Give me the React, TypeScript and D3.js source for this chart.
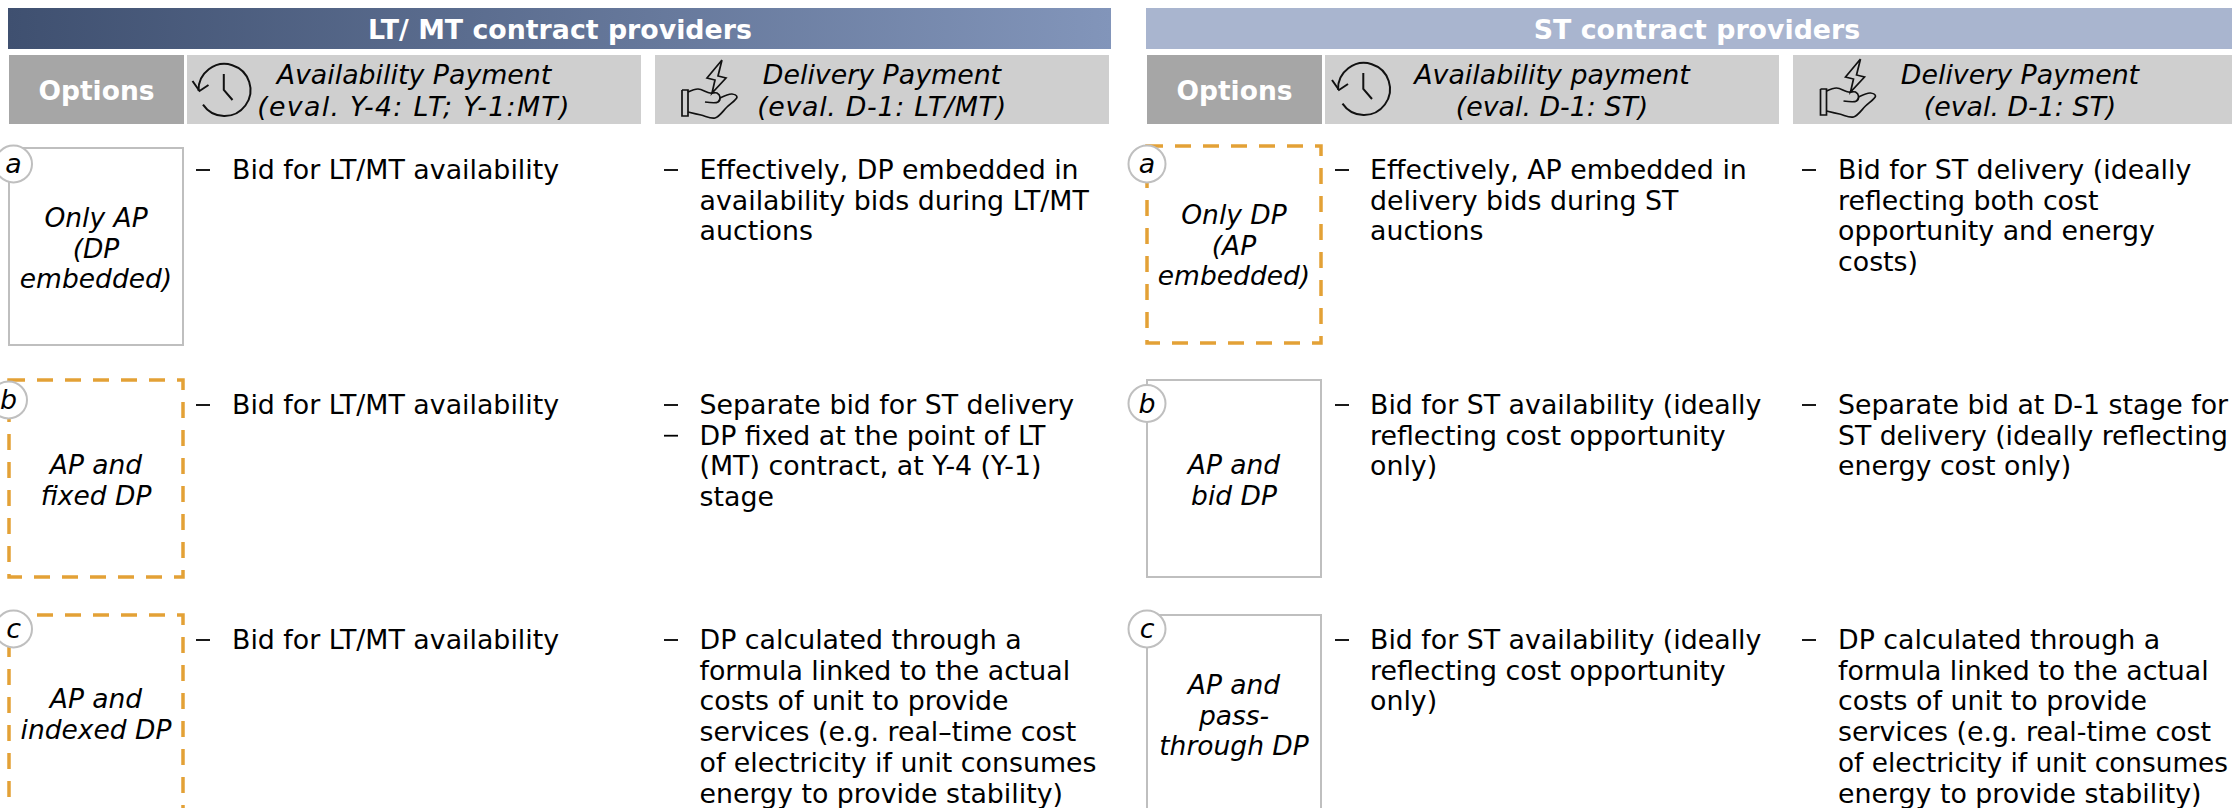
import React, { useEffect, useRef } from 'react'
import * as d3 from 'd3'

// text of the two tables, one list per column, one entry per row, one string per line
const optionLettersLeft = ['a', 'b', 'c']
const optionLettersRight = ['a', 'b', 'c']
const optionsLeft = [['Only AP', '(DP', 'embedded)'], ['AP and', 'fixed DP'], ['AP and', 'indexed DP']]
const optionsRight = [['Only DP', '(AP', 'embedded)'], ['AP and', 'bid DP'], ['AP and', 'pass-', 'through DP']]
const highlightedLeft = [false, true, true]
const highlightedRight = [true, false, false]

const leftAvailability = [
  [['Bid for LT/MT availability']],
  [['Bid for LT/MT availability']],
  [['Bid for LT/MT availability']]
]
const leftDelivery = [
  [['Effectively, DP embedded in', 'availability bids during LT/MT', 'auctions']],
  [['Separate bid for ST delivery'], ['DP fixed at the point of LT', '(MT) contract, at Y-4 (Y-1)', 'stage']],
  [['DP calculated through a', 'formula linked to the actual', 'costs of unit to provide', 'services (e.g. real\u2013time cost', 'of electricity if unit consumes', 'energy to provide stability)']]
]
const rightAvailability = [
  [['Effectively, AP embedded in', 'delivery bids during ST', 'auctions']],
  [['Bid for ST availability (ideally', 'reflecting cost opportunity', 'only)']],
  [['Bid for ST availability (ideally', 'reflecting cost opportunity', 'only)']]
]
const rightDelivery = [
  [['Bid for ST delivery (ideally', 'reflecting both cost', 'opportunity and energy', 'costs)']],
  [['Separate bid at D-1 stage for', 'ST delivery (ideally reflecting', 'energy cost only)']],
  [['DP calculated through a', 'formula linked to the actual', 'costs of unit to provide', 'services (e.g. real-time cost', 'of electricity if unit consumes', 'energy to provide stability)']]
]

const titles = ['LT/ MT contract providers', 'ST contract providers']
const headerLeft = [['Availability Payment', '(eval. Y-4: LT; Y-1:MT)'], ['Delivery Payment', '(eval. D-1: LT/MT)']]
const headerRight = [['Availability payment', '(eval. D-1: ST)'], ['Delivery Payment', '(eval. D-1: ST)']]

const FONT = 'DejaVu Sans, Verdana, sans-serif'
const LINE = 30.7
const BODY = 26.8
const RIGHT_EDGE = 2228
// DejaVu sets these two narrower than the original face
const headerSpacing = { '(eval. Y-4: LT; Y-1:MT)': 1.3, '(eval. D-1: LT/MT)': 0.7 }

function App () {
  const ref = useRef<SVGSVGElement>(null)

  useEffect(() => {
    const svg = d3.select(ref.current)
    svg.selectAll('*').remove()

    const grad = svg.append('defs').append('linearGradient').attr('id', 'barGrad')
    grad.append('stop').attr('offset', '0%').attr('stop-color', '#3f5070')
    grad.append('stop').attr('offset', '100%').attr('stop-color', '#8295ba')

    // row tops / first baselines
    const rowTop = d3.scaleLinear().domain([0, 1, 2]).range([148, 380, 615])
    const rowBase = d3.scaleLinear().domain([0, 1, 2]).range([179, 414, 649])

    const text = (g, x, y, str, size = BODY, anchor = 'start', style = 'normal', weight = 'normal', fill = '#000') =>
      g.append('text').attr('x', x).attr('y', y).text(str)
        .attr('font-family', FONT).attr('font-size', size)
        .attr('text-anchor', anchor).attr('font-style', style)
        .attr('font-weight', weight).attr('fill', fill)

    const clock = (g, cx, cy) => {
      const ink = g.append('g').attr('fill', 'none').attr('stroke', '#111').attr('stroke-width', 2)
      const arc = d3.path()
      arc.arc(cx, cy, 26, Math.PI * 0.99, Math.PI * 2.81)
      ink.append('path').attr('d', arc.toString())
      const line = d3.line()
      ink.append('path').attr('d', line([[cx - 0.7, cy - 16], [cx - 0.7, cy], [cx + 8, cy + 10]]))
      ink.append('path').attr('d', line([[cx - 32, cy - 9], [cx - 25, cy + 1], [cx - 16, cy - 5]]))
    }

    const hand = (g, x, y) => {
      const ink = g.append('g').attr('fill', 'none').attr('stroke', '#111').attr('stroke-width', 1.7)
        .attr('transform', `translate(${x},${y})`)
      const line = d3.line()
      const soft = d3.line().curve(d3.curveCatmullRom)
      // bolt
      ink.append('path').attr('d', line([[47, 5], [32, 23], [40, 25], [37, 38], [51, 23], [43, 21], [47, 5]]))
      // cuff
      ink.append('path').attr('d', line([[7, 35], [13, 35], [13, 61], [7, 61], [7, 35]]))
      // palm and thumb
      ink.append('path').attr('d', soft([[13, 37], [23, 34], [35, 38], [42, 38], [45, 42], [43, 47], [30, 47]]))
      ink.append('path').attr('d', soft([[45, 43], [57, 39], [62, 42], [52, 52], [40, 63], [26, 60], [13, 57]]))
    }

    const table = (titleCx, barX, barW, barFill, title, cols, opts, letters, marked, optX, optW, circleX, circleYs, optBases, head, cells, icons) => {
      const g = svg.append('g')
      g.append('rect').attr('x', barX).attr('y', 8).attr('width', barW).attr('height', 41).attr('fill', barFill)
      text(g, titleCx, 39, title, 26.8, 'middle', 'normal', 'bold', '#fff')

      g.append('rect').attr('x', optX).attr('y', 55).attr('width', optW + 1).attr('height', 69).attr('fill', '#a6a6a6')
      text(g, optX + optW / 2 + 0.5, 100, 'Options', 26.5, 'middle', 'normal', 'bold', '#fff')

      cols.forEach((c, ci) => {
        g.append('rect').attr('x', c.x).attr('y', 55).attr('width', c.w).attr('height', 69).attr('fill', '#cfcfcf')
        head[ci].forEach((l, i) => text(g, c.cx, 84 + i * 32, l, 26.8, 'middle', 'italic')
          .attr('letter-spacing', headerSpacing[l] || null))
        if (ci === 0) clock(g, icons[0], icons[1])
        else hand(g, icons[2], icons[3])
      })

      opts.forEach((lines, r) => {
        const top = marked[r] && r === 0 ? rowTop(r) - 2 : rowTop(r)
        g.append('rect').attr('x', optX).attr('y', top).attr('width', optW).attr('height', 197)
          .attr('fill', 'none')
          .attr('stroke', marked[r] ? '#e3a136' : '#bfbfbf')
          .attr('stroke-width', marked[r] ? 3.5 : 2)
          .attr('stroke-dasharray', marked[r] ? '16 12' : null)
        g.append('circle').attr('cx', circleX[r]).attr('cy', circleYs[r]).attr('r', 18.5)
          .attr('fill', '#fff').attr('stroke', '#bfbfbf').attr('stroke-width', 2)
        text(g, circleX[r], circleYs[r] + 9, letters[r], 26.8, 'middle', 'italic')
        lines.forEach((l, i) => text(g, optX + optW / 2, optBases[r] + 1 + i * LINE, l, 26.5, 'middle', 'italic'))

        cols.forEach((c, ci) => {
          let n = 0
          cells[ci][r].forEach(bullet => {
            const y = rowBase(r) + n * LINE
            g.append('line').attr('x1', c.dash).attr('x2', c.dash + 14).attr('y1', y - 9).attr('y2', y - 9)
              .attr('stroke', '#000').attr('stroke-width', 1.8)
            bullet.forEach((l, i) => {
              const t = text(g, c.tx, y + i * LINE, l)
              // last column runs right up to the page edge, squeeze what would spill over
              if (c.tx + t.node().getComputedTextLength() > RIGHT_EDGE) {
                t.attr('textLength', RIGHT_EDGE - c.tx).attr('lengthAdjust', 'spacingAndGlyphs')
              }
              n++
            })
          })
        })
      })
    }

    table(560, 8, 1103, 'url(#barGrad)', titles[0],
      [{ x: 187, w: 454, cx: 414, dash: 196, tx: 232 }, { x: 655, w: 454, cx: 882, dash: 664, tx: 699.5 }],
      optionsLeft, optionLettersLeft, highlightedLeft, 9, 174,
      [13.5, 8.5, 13.5], [164, 400, 629], [226, 473, 707],
      headerLeft, [leftAvailability, leftDelivery], [224.5, 90, 675, 55])

    table(1697, 1146, 1086, '#a9b5cf', titles[1],
      [{ x: 1325, w: 454, cx: 1552, dash: 1335, tx: 1370 }, { x: 1793, w: 439, cx: 2020, dash: 1802, tx: 1838 }],
      optionsRight, optionLettersRight, highlightedRight, 1147, 174,
      [1147, 1147, 1147], [164, 403.5, 629], [223, 473, 693],
      headerRight, [rightAvailability, rightDelivery], [1364, 89, 1813.5, 54])
  }, [])

  return (
    <svg ref={ref} width={2232} height={808}
      style={{ position: 'absolute', left: 0, top: 0, background: '#fff' }} />
  )
}

export default App
